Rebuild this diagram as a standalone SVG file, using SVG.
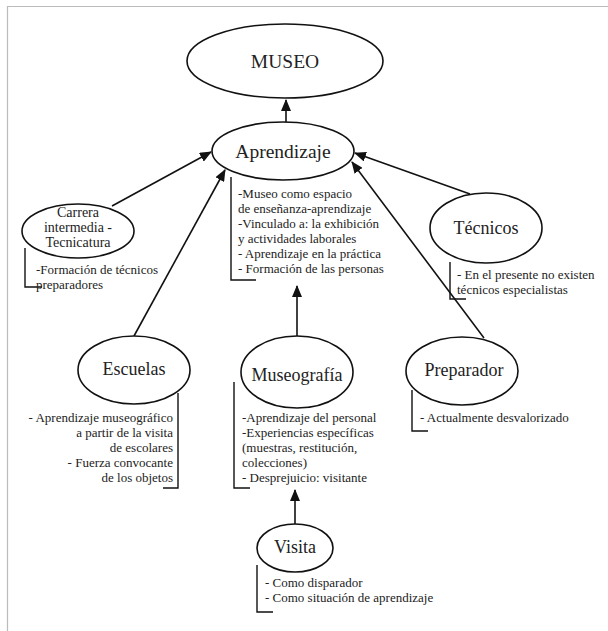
<svg xmlns="http://www.w3.org/2000/svg" width="608" height="631" viewBox="0 0 608 631">
<defs>
<marker id="ah" markerWidth="12" markerHeight="10" refX="11" refY="5" orient="auto" markerUnits="userSpaceOnUse">
<path d="M0,0 L12,5 L0,10 z" fill="#111"/>
</marker>
<style>
.node ellipse{fill:#fff;stroke:#111;stroke-width:1.6}
text{font-family:'Liberation Serif','Times New Roman',Tinos,'DejaVu Serif',serif;fill:#222}
.lbl{font-size:18px;text-anchor:middle}
.big{font-size:19.5px}
.mid{font-size:14px;text-anchor:middle}
.txt{font-size:13px}
.br{fill:none;stroke:#111;stroke-width:1.4}
.conn line{stroke:#111;stroke-width:1.6;marker-end:url(#ah)}
</style>
</defs>
<rect width="608" height="631" fill="#fff"/>
<path d="M7.5,631 V6.5 H608" fill="none" stroke="#bbb" stroke-width="1.2"/>

<g id="connectors" class="conn">
<line x1="286" y1="122" x2="286" y2="100"/>
<line x1="112" y1="206" x2="211" y2="152"/>
<line x1="134" y1="336" x2="225" y2="170"/>
<line x1="470" y1="194" x2="355" y2="153"/>
<line x1="484" y1="338" x2="352" y2="162"/>
<line x1="297" y1="336" x2="297" y2="286"/>
<line x1="295" y1="524" x2="295" y2="490"/>
</g>

<g id="museo" class="node">
<ellipse cx="285" cy="61" rx="98" ry="37"/>
<text class="lbl big" x="285" y="68" font-family="Liberation Serif, serif">MUSEO</text>
</g>

<g id="aprendizaje" class="node">
<ellipse cx="283" cy="151" rx="71" ry="29"/>
<text class="lbl big" x="283" y="158">Aprendizaje</text>
<path class="br" d="M231,177 V280 H256"/>
<text class="txt" x="238" y="198">-Museo como espacio</text>
<text class="txt" x="238" y="213">de enseñanza-aprendizaje</text>
<text class="txt" x="238" y="228">-Vinculado a: la exhibición</text>
<text class="txt" x="238" y="243">y actividades laborales</text>
<text class="txt" x="238" y="258">- Aprendizaje en la práctica</text>
<text class="txt" x="238" y="273">- Formación de las personas</text>
</g>

<g id="carrera" class="node">
<ellipse cx="78" cy="231" rx="56" ry="27"/>
<text class="mid" x="78" y="217">Carrera</text>
<text class="mid" x="78" y="232">intermedia -</text>
<text class="mid" x="78" y="247">Tecnicatura</text>
<path class="br" d="M25,248 V287 H42"/>
<text class="txt" x="36" y="274">-Formación de técnicos</text>
<text class="txt" x="36" y="289">preparadores</text>
</g>

<g id="tecnicos" class="node">
<ellipse cx="486" cy="228" rx="56" ry="35"/>
<text class="lbl" x="486" y="234">Técnicos</text>
<path class="br" d="M450,262 V299 H466"/>
<text class="txt" x="457" y="279">- En el presente no existen</text>
<text class="txt" x="457" y="294">técnicos especialistas</text>
</g>

<g id="escuelas" class="node">
<ellipse cx="134" cy="370" rx="56" ry="34"/>
<text class="lbl" x="134" y="375">Escuelas</text>
<path class="br" d="M178,393 V488 H163"/>
<text class="txt" x="173" y="422" text-anchor="end">- Aprendizaje museográfico</text>
<text class="txt" x="173" y="437" text-anchor="end">a partir de la visita</text>
<text class="txt" x="173" y="452" text-anchor="end">de escolares</text>
<text class="txt" x="173" y="467" text-anchor="end">- Fuerza convocante</text>
<text class="txt" x="173" y="482" text-anchor="end">de los objetos</text>
</g>

<g id="museografia" class="node">
<ellipse cx="297" cy="372" rx="56" ry="36"/>
<text class="lbl" x="297" y="381">Museografía</text>
<path class="br" d="M234,382 V488 H250"/>
<text class="txt" x="242" y="422">-Aprendizaje del personal</text>
<text class="txt" x="242" y="437">-Experiencias específicas</text>
<text class="txt" x="242" y="452">(muestras, restitución,</text>
<text class="txt" x="242" y="467">colecciones)</text>
<text class="txt" x="242" y="482">- Desprejuicio: visitante</text>
</g>

<g id="preparador" class="node">
<ellipse cx="462" cy="371" rx="56" ry="34"/>
<text class="lbl" x="464" y="376">Preparador</text>
<path class="br" d="M412,390 V431 H428"/>
<text class="txt" x="420" y="422">- Actualmente desvalorizado</text>
</g>

<g id="visita" class="node">
<ellipse cx="295" cy="548" rx="38" ry="24"/>
<text class="lbl" x="295" y="553">Visita</text>
<path class="br" d="M257,565 V612 H273"/>
<text class="txt" x="265" y="587">- Como disparador</text>
<text class="txt" x="265" y="602">- Como situación de aprendizaje</text>
</g>
</svg>
